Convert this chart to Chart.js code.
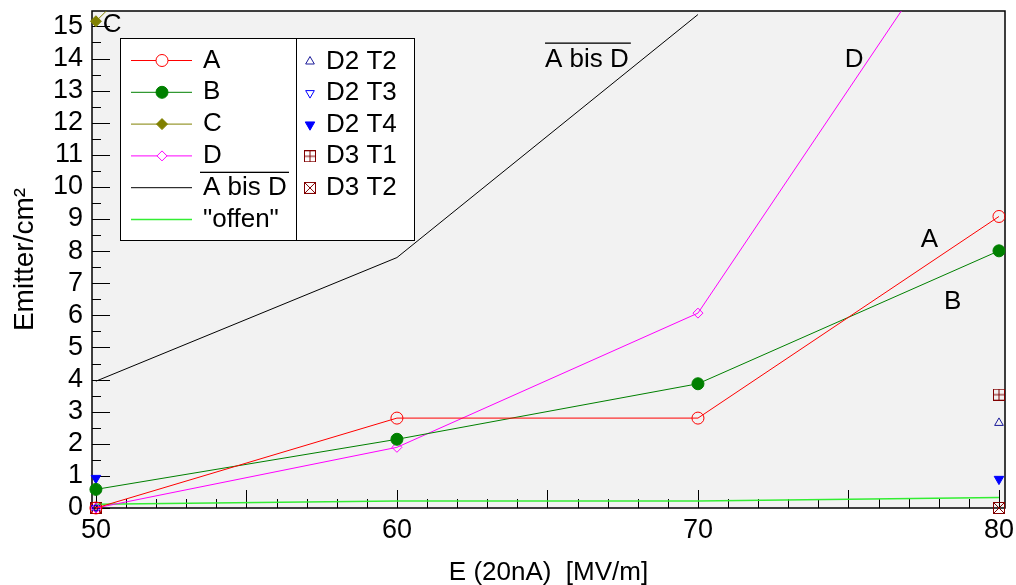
<!DOCTYPE html>
<html>
<head>
<meta charset="utf-8">
<script src="https://cdn.jsdelivr.net/npm/chart.js@4.4.1/dist/chart.umd.min.js"></script>
<style>
html, body { margin: 0; padding: 0; background: #fff; }
</style>
</head>
<body>
<canvas id="emitter" width="1016" height="585"></canvas>
<script>
// field values (MV/m) and emitter densities per series
var fieldValues = [50, 60, 70, 80];
var seriesA = [0, 2.8, 2.8, 9.08];
var seriesB = [0.58, 2.14, 3.87, 8.01];
var seriesC = [15.16, 24.37, 48.8];
var seriesD = [0, 1.89, 6.07, 20.0];
var seriesMean = [3.95, 7.8, 15.37];
var seriesOpen = [0.12, 0.22, 0.22, 0.33];

// single sample measurements
var d2t2X = [50, 80], d2t2Y = [0, 2.65];
var d2t3X = [50], d2t3Y = [0];
var d2t4X = [50, 80], d2t4Y = [0.93, 0.9];
var d3t1X = [50, 80], d3t1Y = [0, 3.53];
var d3t2X = [50, 80], d3t2Y = [0, 0];

var xTickLabels = [50, 60, 70, 80];
var yTickLabels = [0, 1, 2, 3, 4, 5, 6, 7, 8, 9, 10, 11, 12, 13, 14, 15];

var FONT = '"Liberation Sans", Arial, Helvetica, sans-serif';

function pts(xs, ys) {
    return ys.map(function (y, i) { return { x: xs[i], y: y }; });
}

// boxed plus / boxed cross markers
function boxMarker(color, cross) {
    var c = document.createElement('canvas');
    c.width = 12; c.height = 12;
    var g = c.getContext('2d');
    g.strokeStyle = color;
    g.lineWidth = 1;
    g.strokeRect(0.5, 0.5, 11, 11);
    g.beginPath();
    if (cross) {
        g.moveTo(0.5, 0.5); g.lineTo(11.5, 11.5);
        g.moveTo(11.5, 0.5); g.lineTo(0.5, 11.5);
    } else {
        g.moveTo(6, 0.5); g.lineTo(6, 11.5);
        g.moveTo(0.5, 6); g.lineTo(11.5, 6);
    }
    g.stroke();
    return c;
}

var noClip = { left: false, right: false, top: 0, bottom: false };

function lineSet(label, data, color, style, radius, fill, rot) {
    return {
        label: label, data: data, borderColor: color, borderWidth: 1, tension: 0,
        pointStyle: style, pointRadius: radius, pointRotation: rot || 0,
        pointBackgroundColor: fill, pointBorderColor: color, pointBorderWidth: 1,
        clip: noClip
    };
}

function markSet(label, data, color, style, radius, fill, rot) {
    var ds = lineSet(label, data, color, style, radius, fill, rot);
    ds.showLine = false;
    return ds;
}

var datasets = [
    lineSet('A', pts(fieldValues, seriesA), '#ff0000', 'circle', 6, 'transparent'),
    lineSet('B', pts(fieldValues, seriesB), '#008000', 'circle', 6, '#008000'),
    lineSet('C', pts(fieldValues, seriesC), '#808000', 'rectRot', 5.5, '#808000'),
    lineSet('D', pts(fieldValues, seriesD), '#ff00ff', 'rectRot', 5, 'transparent'),
    lineSet('A bis D', pts(fieldValues, seriesMean), '#000000', 'circle', 0, 'transparent'),
    lineSet('"offen"', pts(fieldValues, seriesOpen), '#33ee33', 'circle', 0, 'transparent'),
    markSet('D2 T2', pts(d2t2X, d2t2Y), '#1a1a99', 'triangle', 5, 'transparent'),
    markSet('D2 T3', pts(d2t3X, d2t3Y), '#0000ff', 'triangle', 5, 'transparent', 180),
    markSet('D2 T4', pts(d2t4X, d2t4Y), '#0000ff', 'triangle', 5.5, '#0000ff', 180),
    markSet('D3 T1', pts(d3t1X, d3t1Y), '#800000', boxMarker('#800000', false), 6, 'transparent'),
    markSet('D3 T2', pts(d3t2X, d3t2Y), '#800000', boxMarker('#800000', true), 6, 'transparent')
];
datasets[5].borderWidth = 1.5;

// curve labels inside the frame, placed in axis units
var curveNotes = [
    { text: 'C', x: 50.23, y: 15.06 },
    { text: 'A bis D', x: 64.92, y: 13.97, bar: true },
    { text: 'D', x: 74.88, y: 13.97 },
    { text: 'A', x: 77.4, y: 8.36 },
    { text: 'B', x: 78.17, y: 6.42 }
];

var framePlugin = {
    id: 'frame',
    beforeDraw: function (chart) {
        var a = chart.chartArea, ctx = chart.ctx;
        ctx.save();
        ctx.fillStyle = '#f2f2f2';
        ctx.fillRect(a.left, a.top, a.right - a.left, a.bottom - a.top);
        ctx.restore();
    },
    beforeDatasetsDraw: function (chart) {
        var a = chart.chartArea, ctx = chart.ctx;
        var xs = chart.scales.x, ys = chart.scales.y;
        ctx.save();
        ctx.strokeStyle = '#000';
        ctx.lineWidth = 1;
        ctx.beginPath();
        for (var v = 50; v <= 80; v++) {
            var px = Math.round(xs.getPixelForValue(v)) + 0.5;
            var len = (v % 5 === 0) ? 18 : 9;
            ctx.moveTo(px, a.bottom);
            ctx.lineTo(px, a.bottom - len);
        }
        for (var k = 0; k <= 30; k++) {
            var py = Math.round(ys.getPixelForValue(k / 2)) + 0.5;
            var l2 = (k % 2 === 0) ? 18 : 9;
            ctx.moveTo(a.left, py);
            ctx.lineTo(a.left + l2, py);
        }
        ctx.stroke();
        ctx.lineWidth = 1.5;
        ctx.strokeRect(a.left, a.top, a.right - a.left, a.bottom - a.top);
        ctx.restore();
    },
    afterDatasetsDraw: function (chart) {
        var ctx = chart.ctx, xs = chart.scales.x, ys = chart.scales.y;
        ctx.save();
        ctx.font = '26px ' + FONT;
        ctx.fillStyle = '#000';
        ctx.textBaseline = 'middle';
        ctx.textAlign = 'left';
        curveNotes.forEach(function (n) {
            var px = xs.getPixelForValue(n.x), py = ys.getPixelForValue(n.y);
            ctx.fillText(n.text, px, py);
            if (n.bar) {
                var w = ctx.measureText(n.text).width;
                ctx.fillRect(px, py - 17, w + 2, 1.3);
            }
        });
        ctx.restore();
    }
};

function legendMark(ctx, ds, x, y) {
    var drawPoint = Chart.helpers.drawPoint;
    if (ds.showLine !== false) {
        ctx.strokeStyle = ds.borderColor;
        ctx.lineWidth = ds.borderWidth;
        ctx.beginPath();
        ctx.moveTo(x - 31, y);
        ctx.lineTo(x + 30, y);
        ctx.stroke();
    }
    if (ds.pointRadius > 0) {
        ctx.fillStyle = ds.pointBackgroundColor === 'transparent' ? '#fff' : ds.pointBackgroundColor;
        ctx.strokeStyle = ds.pointBorderColor;
        ctx.lineWidth = ds.pointBorderWidth;
        drawPoint(ctx, {
            pointStyle: ds.pointStyle, radius: ds.pointRadius,
            rotation: ds.pointRotation, borderWidth: ds.pointBorderWidth
        }, x, y);
    }
}

var legendPlugin = {
    id: 'boxLegend',
    afterDraw: function (chart) {
        var ctx = chart.ctx, sets = chart.data.datasets;
        var left = 120, right = 414, top = 38, bottom = 240, split = 296;
        ctx.save();
        ctx.fillStyle = '#fff';
        ctx.fillRect(left, top, right - left, bottom - top);
        ctx.strokeStyle = '#000';
        ctx.lineWidth = 1;
        ctx.strokeRect(left + 0.5, top + 0.5, right - left, bottom - top);
        ctx.beginPath();
        ctx.moveTo(split + 0.5, top);
        ctx.lineTo(split + 0.5, bottom);
        ctx.stroke();

        ctx.font = '26px ' + FONT;
        ctx.textBaseline = 'middle';
        ctx.textAlign = 'left';
        for (var i = 0; i < 6; i++) {
            var y = 60.5 + i * 31.8;
            legendMark(ctx, sets[i], 162, y);
            ctx.fillStyle = '#000';
            ctx.fillText(sets[i].label, 203, y);
            if (i === 4) {
                ctx.fillRect(200, y - 16, 89, 1.3);
            }
        }
        for (var j = 6; j < sets.length; j++) {
            var y2 = 61.5 + (j - 6) * 31.6;
            legendMark(ctx, sets[j], 310, y2);
            ctx.fillStyle = '#000';
            ctx.fillText(sets[j].label, 326, y2);
        }
        ctx.restore();
    }
};

// keep the frame where the layout padding puts it
function noLabelPadding(s) {
    s.paddingLeft = 0; s.paddingRight = 0;
    s.paddingTop = 0; s.paddingBottom = 0;
}

var ctx = document.getElementById('emitter');
var myChart = new Chart(ctx, {
    type: 'line',
    data: { datasets: datasets },
    options: {
        responsive: false,
        animation: false,
        events: [],
        layout: { padding: { top: 11, right: 11, left: 0, bottom: 0 } },
        plugins: {
            legend: { display: false },
            tooltip: { enabled: false }
        },
        scales: {
            x: {
                type: 'linear',
                min: 49.87,
                max: 80.2,
                grid: { display: false, drawTicks: false },
                border: { display: false },
                ticks: { font: { family: FONT, size: 27 }, color: '#000', padding: 6, maxRotation: 0, autoSkip: false },
                afterBuildTicks: function (s) {
                    s.ticks = xTickLabels.map(function (v) { return { value: v }; });
                },
                afterFit: function (s) { s.height = 77; noLabelPadding(s); },
                title: {
                    display: true, text: 'E (20nA)  [MV/m]', color: '#000',
                    font: { family: FONT, size: 26 }, padding: { top: 0, bottom: -3 }
                }
            },
            y: {
                type: 'linear',
                min: 0,
                max: 15.48,
                grid: { display: false, drawTicks: false },
                border: { display: false },
                ticks: { font: { family: FONT, size: 27 }, color: '#000', padding: 9, autoSkip: false },
                afterBuildTicks: function (s) {
                    s.ticks = yTickLabels.map(function (v) { return { value: v }; });
                },
                afterFit: function (s) { s.width = 92; noLabelPadding(s); },
                title: {
                    display: true, text: 'Emitter/cm²', color: '#000',
                    font: { family: FONT, size: 28 }, padding: { top: 8, bottom: 0 }
                }
            }
        }
    },
    plugins: [framePlugin, legendPlugin]
});
</script>
</body>
</html>
